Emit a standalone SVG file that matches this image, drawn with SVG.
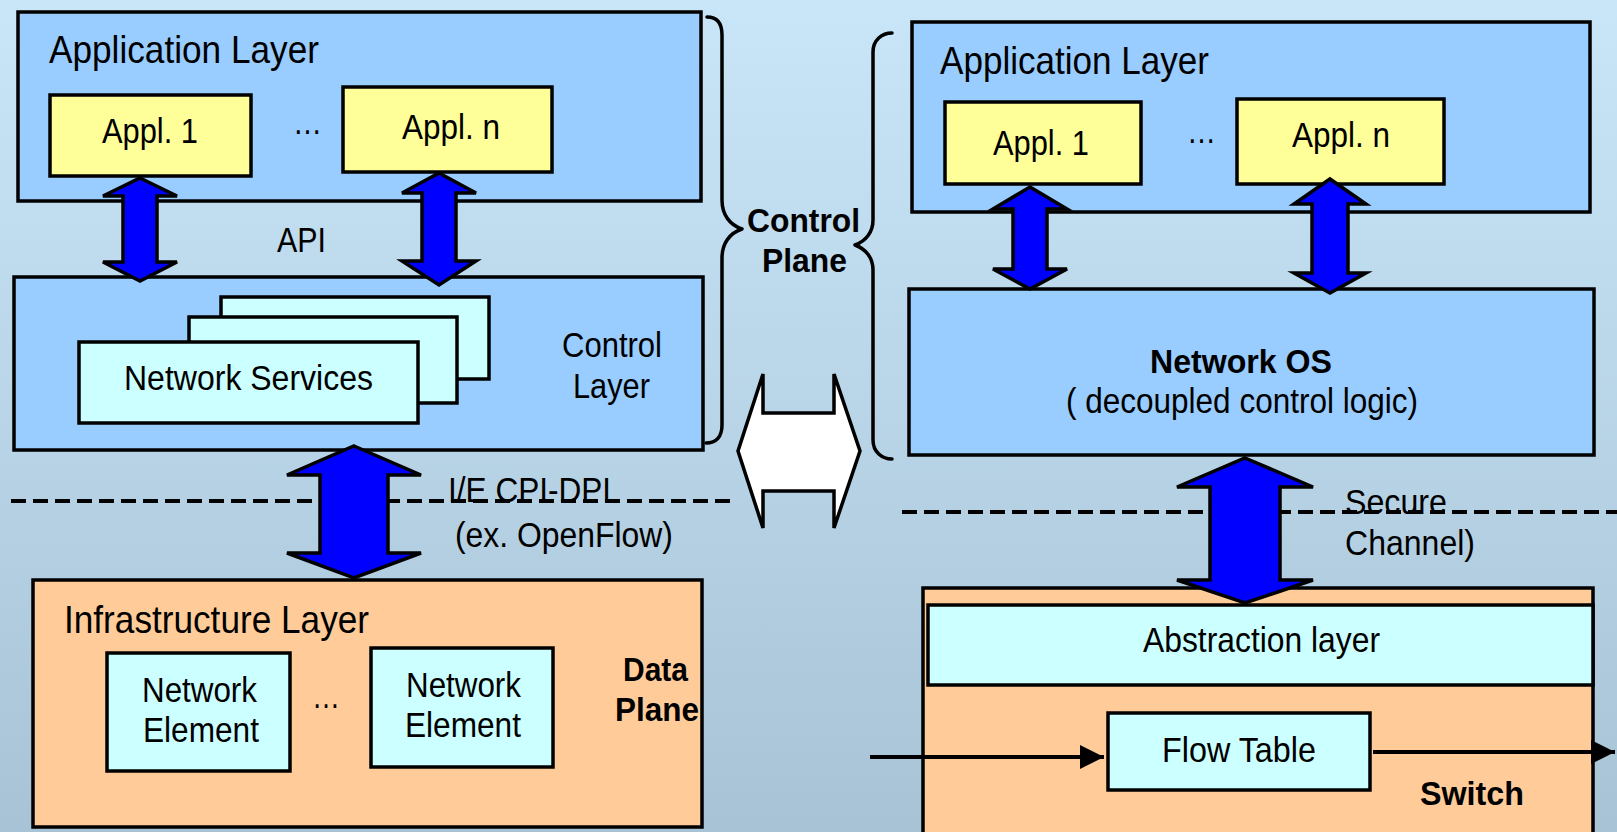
<svg xmlns="http://www.w3.org/2000/svg" width="1617" height="832" viewBox="0 0 1617 832">
<defs>
<linearGradient id="bg" x1="0" y1="0" x2="0" y2="1">
<stop offset="0" stop-color="#C9E6F8"/>
<stop offset="1" stop-color="#A8C3D6"/>
</linearGradient>
<marker id="ah" viewBox="0 0 10 10" refX="10" refY="5" markerWidth="6" markerHeight="6" markerUnits="strokeWidth" orient="auto">
<path d="M0,0 L10,5 L0,10 Z" fill="#000"/>
</marker>
</defs>
<style>
.box{stroke:#000;stroke-width:3.5}
.blue{fill:#99CCFF}
.yel{fill:#FFFF99}
.cyan{fill:#CCFFFF}
.org{fill:#FFCC99}
.arr{fill:#0000FF;stroke:#000;stroke-width:3.5;stroke-linejoin:miter}
.t{font-family:"Liberation Sans",Arial,sans-serif;fill:#000;font-size:35px}
.big{font-size:39px}
.b{font-weight:bold;font-size:34px}
.dash{stroke:#000;stroke-width:4;stroke-dasharray:15 7;fill:none}
.brace{stroke:#000;stroke-width:3.5;fill:none;stroke-linecap:round;stroke-linejoin:round}
.line{stroke:#000;stroke-width:4;fill:none}
</style>
<rect x="0" y="0" width="1617" height="832" fill="url(#bg)"/>

<!-- LEFT SIDE -->
<g id="app-layer-left">
<rect class="box blue" x="18" y="12" width="683" height="189"/>
<text class="t big" x="49" y="63" textLength="270" lengthAdjust="spacingAndGlyphs">Application Layer</text>
</g>
<g id="appl1-left">
<rect class="box yel" x="50" y="95" width="201" height="81"/>
<text class="t" x="102" y="143" textLength="96" lengthAdjust="spacingAndGlyphs">Appl. 1</text>
</g>
<text class="t" x="293" y="134" textLength="29" lengthAdjust="spacingAndGlyphs">…</text>
<g id="appln-left">
<rect class="box yel" x="343" y="87" width="209" height="85"/>
<text class="t" x="402" y="139" textLength="98" lengthAdjust="spacingAndGlyphs">Appl. n</text>
</g>
<text id="api" class="t" x="277" y="252" font-size="34" textLength="49" lengthAdjust="spacingAndGlyphs">API</text>
<g id="control-layer">
<rect class="box blue" x="14" y="277" width="689" height="173"/>
<text class="t" x="562" y="357" textLength="100" lengthAdjust="spacingAndGlyphs">Control</text>
<text class="t" x="573" y="398" textLength="77" lengthAdjust="spacingAndGlyphs">Layer</text>
</g>
<g id="network-services">
<rect class="box cyan" x="221" y="297" width="268" height="82"/>
<rect class="box cyan" x="189" y="317" width="268" height="86"/>
<rect class="box cyan" x="79" y="342" width="339" height="81"/>
<text class="t" x="124" y="390" textLength="249" lengthAdjust="spacingAndGlyphs">Network Services</text>
</g>
<g id="infra-layer">
<rect class="box org" x="33" y="580" width="669" height="247"/>
<text class="t big" x="64" y="633" textLength="305" lengthAdjust="spacingAndGlyphs">Infrastructure Layer</text>
<text class="t b" x="623" y="681" textLength="65" lengthAdjust="spacingAndGlyphs">Data</text>
<text class="t b" x="615" y="721" textLength="84" lengthAdjust="spacingAndGlyphs">Plane</text>
</g>
<g id="ne1">
<rect class="box cyan" x="107" y="653" width="183" height="118"/>
<text class="t" x="142" y="702" textLength="115" lengthAdjust="spacingAndGlyphs">Network</text>
<text class="t" x="143" y="742" textLength="116" lengthAdjust="spacingAndGlyphs">Element</text>
</g>
<text class="t" x="312" y="708" textLength="28" lengthAdjust="spacingAndGlyphs">…</text>
<g id="ne2">
<rect class="box cyan" x="371" y="648" width="182" height="119"/>
<text class="t" x="406" y="697" textLength="115" lengthAdjust="spacingAndGlyphs">Network</text>
<text class="t" x="405" y="737" textLength="116" lengthAdjust="spacingAndGlyphs">Element</text>
</g>
<g id="label-cpi">
<text class="t" x="448" y="502" font-size="33" textLength="172" lengthAdjust="spacingAndGlyphs">I/E CPI-DPL</text>
<text class="t" x="455" y="547" font-size="33" textLength="218" lengthAdjust="spacingAndGlyphs">(ex. OpenFlow)</text>
</g>

<!-- MIDDLE -->
<g id="control-plane">
<path class="brace" d="M707,17 C716,17 722,22 722,35 L722,200 C722,215 730,225 742,229 C730,233 722,243 722,258 L722,425 C722,437 716,443 706,443"/>
<path class="brace" d="M892,33 C882,33 873,40 873,52 L873,220 C873,232 866,241 855,245 C866,249 873,258 873,270 L873,440 C873,452 882,459 892,459"/>
<text class="t b" x="747" y="232" font-size="33" textLength="113" lengthAdjust="spacingAndGlyphs">Control</text>
<text class="t b" x="762" y="272" font-size="33" textLength="85" lengthAdjust="spacingAndGlyphs">Plane</text>
</g>
<g id="compare-arrow">
<polygon points="763,374 763,413 834,413 834,374 860,451 834,528 834,491 763,491 763,528 738,451" fill="#FFF" stroke="#000" stroke-width="3.5" stroke-linejoin="miter"/>
</g>

<!-- RIGHT SIDE -->
<g id="app-layer-right">
<rect class="box blue" x="912" y="22" width="678" height="190"/>
<text class="t big" x="940" y="74" textLength="269" lengthAdjust="spacingAndGlyphs">Application Layer</text>
</g>
<g id="appl1-right">
<rect class="box yel" x="945" y="102" width="196" height="82"/>
<text class="t" x="993" y="155" textLength="96" lengthAdjust="spacingAndGlyphs">Appl. 1</text>
</g>
<text class="t" x="1187" y="143" textLength="29" lengthAdjust="spacingAndGlyphs">…</text>
<g id="appln-right">
<rect class="box yel" x="1237" y="99" width="207" height="85"/>
<text class="t" x="1292" y="147" textLength="98" lengthAdjust="spacingAndGlyphs">Appl. n</text>
</g>
<g id="network-os">
<rect class="box blue" x="909" y="289" width="685" height="166"/>
<text class="t b" x="1150" y="373" font-size="35" textLength="182" lengthAdjust="spacingAndGlyphs">Network OS</text>
<text class="t" x="1066" y="413" font-size="34" textLength="352" lengthAdjust="spacingAndGlyphs">( decoupled control logic)</text>
</g>
<g id="secure-label">
<text class="t" x="1345" y="514" font-size="33" textLength="102" lengthAdjust="spacingAndGlyphs">Secure</text>
<text class="t" x="1345" y="555" font-size="33" textLength="130" lengthAdjust="spacingAndGlyphs">Channel)</text>
</g>
<g id="switch">
<rect class="box org" x="923" y="588" width="670" height="260"/>
<text class="t b" x="1420" y="805" font-size="33" textLength="104" lengthAdjust="spacingAndGlyphs">Switch</text>
</g>
<g id="abstraction-layer">
<rect class="box cyan" x="928" y="605" width="665" height="80"/>
<text class="t" x="1143" y="652" textLength="237" lengthAdjust="spacingAndGlyphs">Abstraction layer</text>
</g>
<g id="flow-table">
<rect class="box cyan" x="1108" y="713" width="262" height="77"/>
<text class="t" x="1162" y="762" textLength="154" lengthAdjust="spacingAndGlyphs">Flow Table</text>
</g>

<!-- CONNECTORS -->
<g id="connectors">
<line class="dash" x1="11" y1="501" x2="733" y2="501"/>
<line class="dash" x1="902" y1="512" x2="1617" y2="512"/>
<polygon class="arr" points="140,178 177,196 157,196 157,262 177,262 140,281 103,262 123,262 123,196 103,196"/>
<polygon class="arr" points="439,173 476,193 456,193 456,261 476,261 439,285 402,261 422,261 422,193 402,193"/>
<polygon class="arr" points="354,446 421,475 388,475 388,553 421,553 354,578 287,553 320,553 320,475 287,475"/>
<polygon class="arr" points="1030,187 1067,209 1047,209 1047,269 1067,269 1030,289 993,269 1013,269 1013,209 993,209"/>
<polygon class="arr" points="1330,179 1366,204 1348,204 1348,273 1366,273 1330,293 1294,273 1312,273 1312,204 1294,204"/>
<polygon class="arr" points="1245,458 1313,487 1280,487 1280,580 1313,580 1245,603 1177,580 1210,580 1210,487 1177,487"/>
<line class="line" x1="870" y1="757" x2="1104" y2="757" marker-end="url(#ah)"/>
<line class="line" x1="1373" y1="752" x2="1615" y2="752" marker-end="url(#ah)"/>
</g>
</svg>
